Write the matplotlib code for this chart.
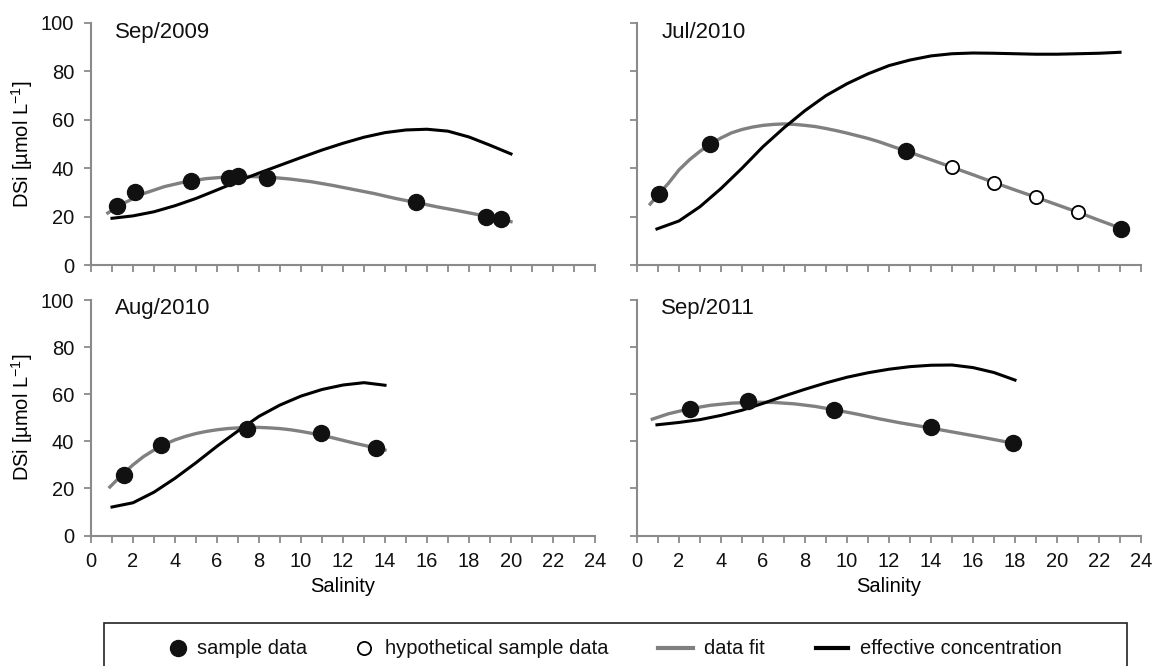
import matplotlib
matplotlib.use("Agg")
import matplotlib.pyplot as plt
from matplotlib.lines import Line2D
from matplotlib.patches import Rectangle
from matplotlib.ticker import MultipleLocator

plt.rcParams['font.family'] = ['Liberation Sans', 'DejaVu Sans']

# --- Sep/2009 ---
sep09_sal = [1.24, 2.1, 4.76, 6.55, 7.0, 8.38, 15.46, 18.8, 19.5]
sep09_dsi = [24.4, 30.2, 34.7, 35.8, 36.8, 35.8, 26.2, 19.7, 18.9]
sep09_fit_x = [0.8, 1.5, 2.5, 3.5, 4.5, 5.5, 6.5, 7.5, 8.5, 9.5, 10.5, 11.5,
               12.5, 13.5, 14.5, 15.5, 16.5, 17.5, 18.5, 19.5, 20.0]
sep09_fit_y = [21.5, 25.3, 29.5, 32.4, 34.4, 35.7, 36.4, 36.6, 36.3, 35.5, 34.4,
               32.9, 31.2, 29.5, 27.5, 25.8, 24.0, 22.4, 20.7, 18.9, 17.9]
sep09_eff_x = [1, 2, 3, 4, 5, 6, 7, 8, 9, 10, 11, 12, 13, 14, 15, 16, 17, 18, 19, 20]
sep09_eff_y = [19.3, 20.3, 22.0, 24.5, 27.5, 31.0, 34.6, 38.0, 41.2, 44.4, 47.5,
               50.3, 52.8, 54.7, 55.8, 56.1, 55.3, 52.9, 49.5, 45.9]

# --- Jul/2010 ---
jul10_sal = [1.04, 3.46, 12.82, 23.06]
jul10_dsi = [29.3, 49.9, 47.0, 15.0]
jul10_hyp_sal = [15, 17, 19, 21]
jul10_hyp_dsi = [40.5, 34.0, 28.0, 21.8]
jul10_fit_x = [0.63, 1.0, 1.5, 2.0, 2.5, 3.0, 3.5, 4.0, 4.5, 5.0, 5.5, 6.0, 6.5, 7.0,
               7.5, 8.0, 8.5, 9.0, 9.5, 10, 10.5, 11, 11.5, 12, 12.5, 13, 14, 15,
               16, 17, 18, 19, 20, 21, 22, 23.06]
jul10_fit_y = [25.2, 29.0, 33.8, 39.3, 43.5, 47.0, 50.0, 52.5, 54.6, 56.0, 57.0, 57.7,
               58.1, 58.3, 58.1, 57.7, 57.2, 56.4, 55.5, 54.5, 53.4, 52.3, 51.0, 49.5,
               48.0, 46.5, 43.5, 40.4, 37.3, 34.1, 31.0, 28.0, 24.9, 21.8, 18.5, 15.1]
jul10_eff_x = [0.95, 2, 3, 4, 5, 6, 7, 8, 9, 10, 11, 12, 13, 14, 15, 16, 17, 18, 19,
               20, 21, 22, 23]
jul10_eff_y = [14.9, 18.2, 24.1, 31.6, 40.0, 48.9, 56.7, 63.8, 70.0, 74.9, 79.0, 82.4,
               84.7, 86.4, 87.3, 87.6, 87.5, 87.3, 87.1, 87.1, 87.3, 87.5, 87.9]

# --- Aug/2010 ---
aug10_sal = [1.55, 3.35, 7.43, 10.97, 13.59]
aug10_dsi = [25.8, 38.3, 45.4, 43.4, 37.2]
aug10_fit_x = [0.9, 1.5, 2, 2.5, 3, 3.5, 4, 4.5, 5, 5.5, 6, 6.5, 7, 7.5, 8, 8.5, 9,
               9.5, 10, 10.5, 11, 11.5, 12, 12.5, 13, 13.5, 14]
aug10_fit_y = [20.6, 26.0, 30.0, 33.5, 36.3, 38.7, 40.6, 42.1, 43.3, 44.2, 44.9, 45.4,
               45.7, 45.9, 45.9, 45.7, 45.4, 44.9, 44.2, 43.4, 42.5, 41.5, 40.4, 39.3,
               38.3, 37.3, 36.3]
aug10_eff_x = [1, 2, 3, 4, 5, 6, 7, 8, 9, 10, 11, 12, 13, 14]
aug10_eff_y = [12.1, 13.9, 18.4, 24.3, 30.9, 37.9, 44.4, 50.6, 55.4, 59.2, 62.0,
               63.9, 64.9, 63.8]

# --- Sep/2011 ---
sep11_sal = [2.54, 5.28, 9.4, 13.98, 17.9]
sep11_dsi = [53.7, 57.2, 53.3, 46.2, 39.3]
sep11_fit_x = [0.73, 1.5, 2.5, 3.5, 4.5, 5.5, 6.5, 7.5, 8.5, 9.5, 10.5, 11.5, 12.5,
               13.5, 14.5, 15.5, 16.5, 17.5, 18.0]
sep11_fit_y = [49.4, 51.7, 53.8, 55.3, 56.2, 56.6, 56.5, 55.9, 54.8, 53.2, 51.5, 49.6,
               47.9, 46.4, 44.8, 43.2, 41.6, 39.9, 39.1]
sep11_eff_x = [0.95, 2, 3, 4, 5, 6, 7, 8, 9, 10, 11, 12, 13, 14, 15, 16, 17, 18]
sep11_eff_y = [47.0, 48.0, 49.2, 51.0, 53.2, 56.1, 59.2, 62.1, 64.8, 67.2, 69.1, 70.6,
               71.7, 72.3, 72.4, 71.3, 69.2, 66.0]

titles = ['Sep/2009', 'Jul/2010', 'Aug/2010', 'Sep/2011']
panels = [
    (sep09_sal, sep09_dsi, None, None, sep09_fit_x, sep09_fit_y, sep09_eff_x, sep09_eff_y),
    (jul10_sal, jul10_dsi, jul10_hyp_sal, jul10_hyp_dsi, jul10_fit_x, jul10_fit_y, jul10_eff_x, jul10_eff_y),
    (aug10_sal, aug10_dsi, None, None, aug10_fit_x, aug10_fit_y, aug10_eff_x, aug10_eff_y),
    (sep11_sal, sep11_dsi, None, None, sep11_fit_x, sep11_fit_y, sep11_eff_x, sep11_eff_y),
]

W, H = 1153, 666
fig = plt.figure(figsize=(W / 100, H / 100), dpi=100)

# axes boxes in pixels: left, top, right, bottom
boxes = [(91, 23, 595, 265), (637, 23, 1141, 265),
         (91, 300, 595, 535.5), (637, 300, 1141, 535.5)]

AX_GRAY = '#8a8a8a'
FIT_GRAY = '#808080'
FS = 14.5

for i, (box, title, p) in enumerate(zip(boxes, titles, panels)):
    l, t, r, b = box
    ax = fig.add_axes([l / W, 1 - b / H, (r - l) / W, (b - t) / H])
    sal, dsi, hsal, hdsi, fx, fy, ex, ey = p
    ax.plot(fx, fy, color=FIT_GRAY, lw=2.4, zorder=2)
    ax.plot(ex, ey, color='black', lw=2.2, zorder=3)
    ax.plot(sal, dsi, 'o', ms=11.5, color='#111111', mec='#111111', zorder=4)
    if hsal is not None:
        ax.plot(hsal, hdsi, 'o', ms=9.5, mfc='white', mec='black', mew=1.3, zorder=4)

    ax.set_xlim(0, 24)
    ax.set_ylim(0, 100)
    ax.xaxis.set_major_locator(MultipleLocator(2))
    ax.xaxis.set_minor_locator(MultipleLocator(1))
    ax.yaxis.set_major_locator(MultipleLocator(20))
    for s in ['top', 'right']:
        ax.spines[s].set_visible(False)
    for s in ['left', 'bottom']:
        ax.spines[s].set_color(AX_GRAY)
        ax.spines[s].set_linewidth(1.5)
    ax.tick_params(which='both', direction='out', length=5, width=1.3,
                   color=AX_GRAY, labelsize=FS, pad=7, labelcolor='#111111')

    if i < 2:
        ax.tick_params(axis='x', labelbottom=False)
    else:
        ax.set_xlabel('Salinity', fontsize=FS, labelpad=4)
    if i % 2 == 1:
        ax.tick_params(axis='y', labelleft=False)
    else:
        ax.set_ylabel('DSi [µmol L$^{\\mathregular{-1}}$]', fontsize=FS)
        ax.yaxis.set_label_coords(-0.112, 0.5)

    ax.text(0.048, 0.962, title, transform=ax.transAxes, fontsize=16,
            ha='left', va='center', color='#111111')

# legend frame running off the bottom edge
fig.add_artist(Rectangle((104 / W, -0.05), (1127 - 104) / W, 0.05 + 1 - 622.7 / H,
                         transform=fig.transFigure, fill=False, ec='#222222', lw=1.2))

ly = 1 - 648 / H
legend_items = [
    ('marker', dict(marker='o', ms=11.5, color='#111111', ls='none'), 178, 197, 'sample data'),
    ('marker', dict(marker='o', ms=9.5, mfc='white', mec='black', mew=1.3, ls='none'), 364, 385,
     'hypothetical sample data'),
    ('line', dict(color=FIT_GRAY, lw=3), (658, 693), 704, 'data fit'),
    ('line', dict(color='black', lw=3), (816, 848), 860, 'effective concentration'),
]
for kind, style, hx, tx, label in legend_items:
    if kind == 'marker':
        fig.add_artist(Line2D([hx / W], [ly], transform=fig.transFigure, **style))
    else:
        fig.add_artist(Line2D([hx[0] / W, hx[1] / W], [ly, ly], transform=fig.transFigure, **style))
    fig.text(tx / W, ly, label, fontsize=FS, ha='left', va='center', color='#111111')

fig.savefig('out.png', dpi=100)
